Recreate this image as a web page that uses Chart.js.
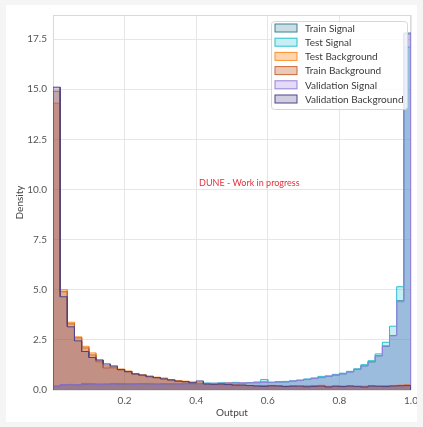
<!DOCTYPE html>
<html><head><meta charset="utf-8">
<script src="https://cdn.jsdelivr.net/npm/chart.js@4.4.1/dist/chart.umd.min.js"></script>
<style>
html,body{margin:0;padding:0;background:#f5f5f5;width:423px;height:427px;overflow:hidden}
#wrap{position:absolute;left:6px;top:5px;width:411px;height:417px;background:#fff}
canvas{display:block}
</style></head><body>
<div id="wrap"><canvas id="c" width="411" height="417"></canvas></div>
<script>
const binEdges = [0,0.02,0.04,0.06,0.08,0.1,0.12,0.14,0.16,0.18,0.2,0.22,0.24,0.26,0.28,0.3,0.32,0.34,0.36,0.38,0.4,0.42,0.44,0.46,0.48,0.5,0.52,0.54,0.56,0.58,0.6,0.62,0.64,0.66,0.68,0.7,0.72,0.74,0.76,0.78,0.8,0.82,0.84,0.86,0.88,0.9,0.92,0.94,0.96,0.98,1.0];

const trainSignal = [0.18,0.26,0.27,0.25,0.28,0.3,0.27,0.29,0.31,0.28,
  0.3,0.29,0.32,0.3,0.28,0.31,0.3,0.29,0.31,0.32,
  0.33,0.31,0.34,0.32,0.35,0.36,0.34,0.37,0.36,0.4,
  0.38,0.41,0.4,0.44,0.47,0.52,0.57,0.62,0.68,0.74,
  0.8,0.9,1.02,1.2,1.4,1.7,2.18,2.72,4.45,17.8];
const testSignal = [0.2,0.25,0.28,0.24,0.33,0.28,0.3,0.27,0.3,0.33,
  0.28,0.31,0.3,0.33,0.3,0.28,0.32,0.3,0.33,0.3,
  0.31,0.35,0.3,0.36,0.33,0.38,0.32,0.36,0.4,0.52,
  0.37,0.4,0.43,0.45,0.5,0.55,0.6,0.68,0.7,0.78,
  0.84,0.93,1.06,1.26,1.46,1.8,2.38,3.18,5.15,17.1];
const testBackground = [14.3,5.0,3.38,2.65,2.18,1.85,1.4,1.2,1.1,1.05,
  0.95,0.78,0.76,0.7,0.64,0.6,0.48,0.47,0.44,0.4,
  0.35,0.32,0.27,0.26,0.35,0.25,0.24,0.21,0.22,0.2,
  0.23,0.18,0.2,0.22,0.17,0.21,0.19,0.24,0.2,0.18,
  0.21,0.19,0.2,0.16,0.22,0.2,0.19,0.23,0.25,0.28];
const trainBackground = [14.9,4.9,3.3,2.6,2.1,1.75,1.45,1.1,1.15,1.0,
  0.9,0.82,0.72,0.68,0.6,0.57,0.52,0.45,0.4,0.38,
  0.33,0.3,0.3,0.28,0.3,0.26,0.22,0.23,0.2,0.22,
  0.2,0.21,0.19,0.2,0.18,0.2,0.22,0.19,0.17,0.2,
  0.18,0.2,0.17,0.19,0.2,0.18,0.21,0.2,0.22,0.24];
const validationSignal = [0.16,0.27,0.26,0.27,0.3,0.29,0.28,0.3,0.29,0.3,
  0.31,0.28,0.3,0.31,0.29,0.3,0.32,0.3,0.3,0.33,
  0.32,0.33,0.33,0.34,0.35,0.35,0.36,0.36,0.38,0.38,
  0.39,0.4,0.42,0.45,0.48,0.53,0.58,0.63,0.69,0.75,
  0.81,0.91,1.03,1.22,1.42,1.72,2.2,2.7,4.4,17.75];
const validationBackground = [15.1,4.65,3.15,2.45,1.92,1.62,1.5,1.3,1.2,1.02,
  0.92,0.8,0.75,0.66,0.62,0.55,0.5,0.44,0.42,0.36,
  0.45,0.3,0.28,0.3,0.27,0.24,0.25,0.22,0.2,0.18,
  0.21,0.2,0.17,0.19,0.2,0.16,0.18,0.2,0.15,0.19,
  0.17,0.2,0.18,0.15,0.2,0.19,0.17,0.2,0.21,0.22];

const seriesNames = ['Train Signal','Test Signal','Test Background','Train Background','Validation Signal','Validation Background'];
const seriesValues = [trainSignal,testSignal,testBackground,trainBackground,validationSignal,validationBackground];
const seriesEdge = ['#3a8193','#2cbfd0','#ff8f2e','#c96a3c','#9a80dc','#4f4585'];
const seriesFill = ['rgba(46,125,143,0.25)','rgba(23,190,207,0.25)','rgba(255,127,14,0.33)','rgba(200,98,46,0.35)','rgba(147,112,219,0.25)','rgba(72,61,139,0.25)'];
const xTicks = [0.2,0.4,0.6,0.8,1.0];
const yTicks = [0,2.5,5,7.5,10,12.5,15,17.5];

function histPoints(vals){
  const pts=[{x:binEdges[0],y:0}];
  for(let i=0;i<vals.length;i++){
    pts.push({x:binEdges[i],y:vals[i]});
    pts.push({x:binEdges[i+1],y:vals[i]});
  }
  pts.push({x:binEdges[binEdges.length-1],y:0});
  return pts;
}

const datasets = seriesNames.map((n,i)=>({
  label:n,
  data:histPoints(seriesValues[i]),
  borderColor:seriesEdge[i],
  backgroundColor:seriesFill[i],
  borderWidth:1,
  fill:'origin',
  pointRadius:0,
  tension:0,
  order:seriesNames.length-i
}));

const FONT='Lato';

const framePlugin={
  id:'frame',
  beforeDatasetsDraw(chart){
    const {ctx,chartArea:a}=chart;
    ctx.save();
    ctx.strokeStyle='#d9d9d9';ctx.lineWidth=1;
    ctx.strokeRect(Math.round(a.left)+0.5,Math.round(a.top)+0.5,Math.round(a.right-a.left)-1,Math.round(a.bottom-a.top)-1);
    ctx.restore();
  }
};
const notePlugin={
  id:'note',
  afterDatasetsDraw(chart){
    const {ctx,chartArea:a}=chart;
    ctx.save();
    ctx.font='9px '+FONT;ctx.fillStyle='#e8303a';ctx.textAlign='left';ctx.textBaseline='middle';
    ctx.fillText('DUNE - Work in progress',a.left+(a.right-a.left)*0.408,a.bottom-(a.bottom-a.top)*0.552);
    ctx.restore();
  }
};
const legendPlugin={
  id:'boxlegend',
  afterDraw(chart){
    const {ctx,chartArea:a}=chart;
    const w=136,h=88;
    const x0=a.right-4-w, y0=a.top+6;
    ctx.save();
    ctx.beginPath();
    ctx.roundRect(x0+0.5,y0+0.5,w,h,3);
    ctx.fillStyle='rgba(255,255,255,0.8)';ctx.fill();
    ctx.strokeStyle='#d6d6d6';ctx.lineWidth=1;ctx.stroke();
    ctx.font='10px '+FONT;ctx.textBaseline='middle';ctx.textAlign='left';
    for(let i=0;i<seriesNames.length;i++){
      const cy=y0+7+14.2*i;
      ctx.fillStyle='#fff';ctx.fillRect(x0+4,cy-4,22,8);
      ctx.fillStyle=seriesFill[i];ctx.fillRect(x0+4,cy-4,22,8);
      ctx.strokeStyle=seriesEdge[i];ctx.lineWidth=1;ctx.strokeRect(x0+4,cy-4,22,8);
      ctx.fillStyle='#3a3a3a';ctx.fillText(seriesNames[i],x0+34,cy+0.5);
    }
    ctx.restore();
  }
};

new Chart(document.getElementById('c'),{
  type:'line',
  data:{datasets},
  options:{
    responsive:false,animation:false,devicePixelRatio:1,
    layout:{padding:{left:0,right:6,top:10,bottom:0}},
    plugins:{legend:{display:false},tooltip:{enabled:false}},
    scales:{
      x:{type:'linear',min:0,max:1,
        afterBuildTicks(s){s.ticks=xTicks.map(v=>({value:v}));},
        afterFit(s){s.height=32;s.paddingLeft=0;s.paddingRight=0;},
        grid:{color:'#e6e6e6',drawTicks:false},
        border:{display:false},
        ticks:{padding:5,color:'#555',font:{family:FONT,size:10},callback:v=>v.toFixed(1),maxRotation:0},
        title:{display:true,text:'Output',color:'#444',font:{family:FONT,size:10},padding:{top:0,bottom:3}}
      },
      y:{min:0,max:18.7,
        afterBuildTicks(s){s.ticks=yTicks.map(v=>({value:v}));},
        afterFit(s){s.width=47;s.paddingTop=0;s.paddingBottom=0;},
        grid:{color:'#e6e6e6',drawTicks:false},
        border:{display:false},
        ticks:{padding:6,color:'#555',font:{family:FONT,size:10},callback:v=>v.toFixed(1)},
        title:{display:true,text:'Density',color:'#444',font:{family:FONT,size:10},padding:{top:8,bottom:0}}
      }
    }
  },
  plugins:[framePlugin,notePlugin,legendPlugin]
});
</script>
</body></html>
